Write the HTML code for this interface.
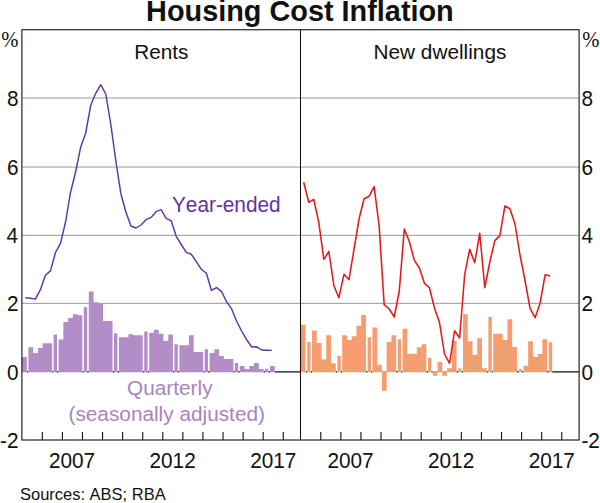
<!DOCTYPE html>
<html><head><meta charset="utf-8"><title>Housing Cost Inflation</title>
<style>html,body{margin:0;padding:0;background:#fff;}body{width:600px;height:503px;overflow:hidden;}svg{display:block;}text{font-family:"Liberation Sans",sans-serif;font-kerning:none;}</style></head><body>
<svg width="600" height="503" viewBox="0 0 600 503">
<rect width="600" height="503" fill="#fff"/>
<defs><pattern id="pp" width="2" height="2" patternUnits="userSpaceOnUse"><rect width="2" height="2" fill="#b08fcb"/><rect width="1" height="1" fill="#b48ac4"/><rect x="1" y="1" width="1" height="1" fill="#b48ac4"/></pattern><pattern id="po" width="3" height="6" patternUnits="userSpaceOnUse"><rect width="3" height="6" fill="#fd9b72"/><rect x="0" y="0" width="1" height="1" fill="#d4a166"/><rect x="1" y="2" width="1" height="1" fill="#d4a166"/><rect x="2" y="4" width="1" height="1" fill="#d4a166"/></pattern></defs>
<line x1="21.9" x2="579.1" y1="98.0" y2="98.0" stroke="#999" stroke-width="1"/>
<line x1="21.9" x2="579.1" y1="167.05" y2="167.05" stroke="#999" stroke-width="1"/>
<line x1="21.9" x2="579.1" y1="235.35" y2="235.35" stroke="#999" stroke-width="1"/>
<line x1="21.9" x2="579.1" y1="303.35" y2="303.35" stroke="#999" stroke-width="1"/>
<path d="M26.80 371.85H28.40M52.15 371.85H53.60M57.00 371.85H58.60M82.35 371.85H83.80M87.20 371.85H88.80M112.55 371.85H114.00M117.40 371.85H119.00M142.75 371.85H144.20M147.60 371.85H149.20M172.95 371.85H174.40M177.80 371.85H179.40M203.15 371.85H204.60M208.00 371.85H209.60M233.35 371.85H234.80M238.20 371.85H239.80M263.55 371.85H265.00M268.40 371.85H270.00M274.75 371.85H300.50M300.50 371.85H300.80M305.55 371.85H307.20M310.60 371.85H312.00M335.75 371.85H337.40M340.80 371.85H342.20M365.95 371.85H367.60M371.00 371.85H372.40M396.15 371.85H397.80M401.20 371.85H402.60M426.35 371.85H428.00M431.40 371.85H432.80M456.55 371.85H458.20M461.60 371.85H463.00M486.75 371.85H488.40M491.80 371.85H493.20M516.95 371.85H518.60M522.00 371.85H523.40M547.15 371.85H548.80M552.20 371.85H579.10" stroke="#111" stroke-width="1.15" fill="none"/>
<path d="M21.90 372.25V357.10H26.80V372.25ZM28.40 372.25V347.30H33.15V353.00H37.90V348.00H42.65V343.30H47.40V343.30H52.15V372.25ZM53.60 372.25V334.60H57.00V372.25ZM58.60 372.25V339.50H63.35V321.90H68.10V318.00H72.85V314.20H77.60V315.20H82.35V372.25ZM83.80 372.25V307.30H87.20V372.25ZM88.80 372.25V291.60H93.55V302.30H98.30V303.40H103.05V321.00H107.80V321.00H112.55V372.25ZM114.00 372.25V333.30H117.40V372.25ZM119.00 372.25V337.30H123.75V337.30H128.50V334.30H133.25V335.30H138.00V335.30H142.75V372.25ZM144.20 372.25V331.50H147.60V372.25ZM149.20 372.25V332.80H153.95V329.70H158.70V333.70H163.45V341.00H168.20V334.60H172.95V372.25ZM174.40 372.25V344.30H177.80V372.25ZM179.40 372.25V345.20H184.15V345.20H188.90V335.30H193.65V352.10H198.40V352.10H203.15V372.25ZM204.60 372.25V349.20H208.00V372.25ZM209.60 372.25V353.10H214.35V349.20H219.10V356.10H223.85V359.10H228.60V359.00H233.35V372.25ZM234.80 372.25V362.90H238.20V372.25ZM239.80 372.25V366.00H244.55V369.00H249.30V366.00H254.05V362.90H258.80V369.10H263.55V372.25ZM265.00 372.25V368.70H268.40V372.25ZM270.00 372.25V366.00H274.75V372.25Z" fill="url(#pp)"/>
<path d="M300.80 372.25V324.70H305.55V372.25ZM307.20 372.25V342.00H310.60V372.25ZM312.00 372.25V330.50H316.75V343.00H321.50V359.50H326.25V335.30H331.00V363.30H335.75V372.25ZM337.40 372.25V355.80H340.80V372.25ZM342.20 372.25V335.30H346.95V340.00H351.70V336.30H356.45V325.80H361.20V315.00H365.95V372.25ZM367.60 372.25V337.20H371.00V372.25ZM372.40 372.25V327.50H377.15V364.70H381.90V390.70H386.65V342.00H391.40V335.30H396.15V372.25ZM381.90 371.05H386.65V372.35H381.90ZM397.80 372.25V339.20H401.20V372.25ZM402.60 372.25V328.80H407.35V353.80H412.10V353.80H416.85V347.20H421.60V344.20H426.35V372.25ZM428.00 372.25V358.00H431.40V372.25ZM432.80 372.25V375.80H437.55V362.00H442.30V375.80H447.05V368.30H451.80V340.80H456.55V372.25ZM432.80 371.05H437.55V372.35H432.80ZM442.30 371.05H447.05V372.35H442.30ZM458.20 372.25V368.30H461.60V372.25ZM463.00 372.25V314.20H467.75V341.30H472.50V354.70H477.25V338.30H482.00V368.30H486.75V372.25ZM488.40 372.25V317.00H491.80V372.25ZM493.20 372.25V333.70H497.95V333.70H502.70V340.00H507.45V319.20H512.20V347.00H516.95V372.25ZM518.60 372.25V369.00H522.00V372.25ZM523.40 372.25V365.80H528.15V341.30H532.90V357.00H537.65V354.00H542.40V339.30H547.15V372.25ZM548.80 372.25V342.20H552.20V372.25Z" fill="url(#po)"/>
<polyline points="25.30,297.70 30.33,298.30 35.36,299.10 40.39,289.70 45.42,275.30 50.45,270.90 55.48,252.50 60.51,243.30 65.54,222.00 70.57,192.20 75.60,172.00 80.63,147.30 85.66,133.30 90.69,105.30 95.72,93.30 100.75,84.70 105.78,94.00 110.81,124.30 115.84,161.00 120.87,193.70 125.90,212.00 130.93,226.00 135.96,228.00 140.99,225.00 146.02,219.70 151.05,217.40 156.08,211.70 161.11,209.70 166.14,218.30 171.17,220.70 176.20,236.30 181.23,244.50 186.26,252.40 191.29,254.30 196.32,261.70 201.35,269.30 206.38,273.30 211.41,290.30 216.44,287.60 221.47,291.30 226.50,301.70 231.53,308.70 236.56,321.00 241.59,331.00 246.62,339.70 251.65,347.00 256.68,346.80 261.71,350.00 266.74,350.20 271.77,350.40" fill="none" stroke="#5e35a5" stroke-width="1.45" stroke-linejoin="round"/>
<polyline points="303.70,182.30 308.73,202.30 313.76,199.40 318.79,222.30 323.82,259.40 328.85,251.30 333.88,285.70 338.91,297.70 343.94,274.30 348.97,279.70 354.00,249.30 359.03,219.00 364.06,198.70 369.09,196.30 374.12,186.70 379.15,226.00 384.18,304.60 389.21,309.00 394.24,317.00 399.27,291.00 404.30,229.10 409.33,241.50 414.36,260.30 419.39,268.00 424.42,283.30 429.45,287.70 434.48,308.00 439.51,322.80 444.54,354.00 449.57,363.30 454.60,330.70 459.63,338.00 464.66,274.70 469.69,249.30 474.72,262.70 479.75,233.30 484.78,287.70 489.81,262.00 494.84,240.60 499.87,235.60 504.90,206.00 509.93,208.70 514.96,224.00 519.99,255.00 525.02,280.50 530.05,308.30 535.08,317.70 540.11,303.20 545.14,274.70 550.17,276.00" fill="none" stroke="#e31a1c" stroke-width="1.55" stroke-linejoin="round"/>
<path d="M42.30 440.0 V432.0M62.38 440.0 V432.0M82.46 440.0 V432.0M102.54 440.0 V432.0M122.62 440.0 V432.0M142.70 440.0 V432.0M162.78 440.0 V432.0M182.86 440.0 V432.0M202.94 440.0 V432.0M223.02 440.0 V432.0M243.10 440.0 V432.0M263.18 440.0 V432.0M283.26 440.0 V432.0M320.80 440.0 V432.0M340.88 440.0 V432.0M360.96 440.0 V432.0M381.04 440.0 V432.0M401.12 440.0 V432.0M421.20 440.0 V432.0M441.28 440.0 V432.0M461.36 440.0 V432.0M481.44 440.0 V432.0M501.52 440.0 V432.0M521.60 440.0 V432.0M541.68 440.0 V432.0M561.76 440.0 V432.0" stroke="#111" stroke-width="1.1" fill="none"/>
<rect x="21.9" y="29.75" width="557.2" height="410.25" fill="none" stroke="#111" stroke-width="1.1"/>
<line x1="300.5" x2="300.5" y1="29.75" y2="440.0" stroke="#111" stroke-width="1.05"/>
<text transform="translate(299.9 21.0) scale(0.995 1.03)" font-size="29.0" text-anchor="middle" fill="#111" font-weight="bold">Housing Cost Inflation</text>
<text transform="translate(18.5 106) scale(1.0 1.025)" font-size="20.8" text-anchor="end" fill="#111">8</text>
<text transform="translate(581.4 106) scale(1.0 1.025)" font-size="20.8" text-anchor="start" fill="#111">8</text>
<text transform="translate(18.5 175) scale(1.0 1.025)" font-size="20.8" text-anchor="end" fill="#111">6</text>
<text transform="translate(581.4 175) scale(1.0 1.025)" font-size="20.8" text-anchor="start" fill="#111">6</text>
<text transform="translate(18.1 243) scale(1.0 1.025)" font-size="20.8" text-anchor="end" fill="#111">4</text>
<text transform="translate(581.4 243) scale(1.0 1.025)" font-size="20.8" text-anchor="start" fill="#111">4</text>
<text transform="translate(18.5 311) scale(1.0 1.025)" font-size="20.8" text-anchor="end" fill="#111">2</text>
<text transform="translate(581.4 311) scale(1.0 1.025)" font-size="20.8" text-anchor="start" fill="#111">2</text>
<text transform="translate(18.5 380) scale(1.0 1.025)" font-size="20.8" text-anchor="end" fill="#111">0</text>
<text transform="translate(581.4 380) scale(1.0 1.025)" font-size="20.8" text-anchor="start" fill="#111">0</text>
<text transform="translate(18.5 448) scale(1.0 1.025)" font-size="20.8" text-anchor="end" fill="#111">-2</text>
<text transform="translate(581.4 448) scale(1.0 1.025)" font-size="20.8" text-anchor="start" fill="#111">-2</text>
<text transform="translate(1.2 46.8) scale(0.96 1.07)" font-size="21.5" text-anchor="start" fill="#111" style="font-family:'Liberation Serif',serif">%</text>
<text transform="translate(582.3 46.8) scale(0.96 1.07)" font-size="21.5" text-anchor="start" fill="#111" style="font-family:'Liberation Serif',serif">%</text>
<text transform="translate(72.0 467.6) scale(1.0 1.025)" font-size="20.8" text-anchor="middle" fill="#111">2007</text>
<text transform="translate(350.5 467.6) scale(1.0 1.025)" font-size="20.8" text-anchor="middle" fill="#111">2007</text>
<text transform="translate(172.6 467.6) scale(1.0 1.025)" font-size="20.8" text-anchor="middle" fill="#111">2012</text>
<text transform="translate(451.1 467.6) scale(1.0 1.025)" font-size="20.8" text-anchor="middle" fill="#111">2012</text>
<text transform="translate(273.3 467.6) scale(1.0 1.025)" font-size="20.8" text-anchor="middle" fill="#111">2017</text>
<text transform="translate(551.8 467.6) scale(1.0 1.025)" font-size="20.8" text-anchor="middle" fill="#111">2017</text>
<text transform="translate(161.3 58.5) scale(1.0 0.97)" font-size="20.8" text-anchor="middle" fill="#111">Rents</text>
<text transform="translate(439.9 58.5) scale(1.0 0.97)" font-size="20.8" text-anchor="middle" fill="#111">New dwellings</text>
<text transform="translate(226.3 212.0) scale(1.0 1.04)" font-size="20.8" text-anchor="middle" fill="#5e35a5">Year-ended</text>
<text transform="translate(169.8 395.4) scale(1.0 0.975)" font-size="20.8" text-anchor="middle" fill="#a983c1">Quarterly</text>
<text transform="translate(166.7 421.1) scale(1.0 0.975)" font-size="20.8" text-anchor="middle" fill="#a983c1">(seasonally adjusted)</text>
<text transform="translate(20 499.9) scale(1.0 1.025)" font-size="16.5" text-anchor="start" fill="#111">Sources: ABS; RBA</text>
</svg></body></html>
